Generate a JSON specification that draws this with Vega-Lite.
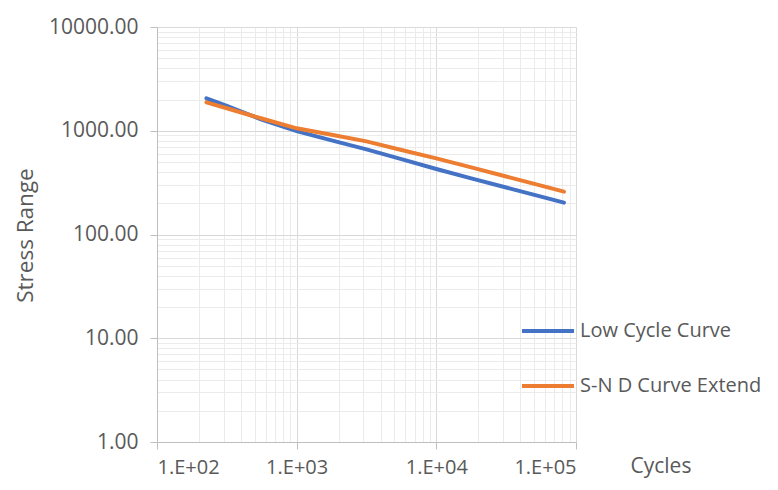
{
  "$schema": "https://vega.github.io/schema/vega-lite/v6.json",
  "autosize": {"type": "none"},
  "width": 419,
  "height": 415,
  "padding": {"left": 157, "top": 27, "right": 202, "bottom": 48},
  "background": "white",
  "config": {
    "view": {"stroke": null},
    "font": "Open Sans",
    "axis": {"labelFont": "Open Sans", "titleFont": "Open Sans", "labelColor": "#595959", "titleColor": "#595959", "titleFontWeight": "normal"},
    "legend": {"labelFont": "Open Sans", "labelColor": "#595959"}
  },
  "data": {
    "values": [
      {"cycles": 226, "stress": 2055, "series": "Low Cycle Curve"},
      {"cycles": 316, "stress": 1734, "series": "Low Cycle Curve"},
      {"cycles": 562, "stress": 1280, "series": "Low Cycle Curve"},
      {"cycles": 1000, "stress": 990, "series": "Low Cycle Curve"},
      {"cycles": 1778, "stress": 808, "series": "Low Cycle Curve"},
      {"cycles": 3162, "stress": 661, "series": "Low Cycle Curve"},
      {"cycles": 5623, "stress": 532, "series": "Low Cycle Curve"},
      {"cycles": 10000, "stress": 428, "series": "Low Cycle Curve"},
      {"cycles": 17783, "stress": 348, "series": "Low Cycle Curve"},
      {"cycles": 31623, "stress": 284, "series": "Low Cycle Curve"},
      {"cycles": 56234, "stress": 232, "series": "Low Cycle Curve"},
      {"cycles": 82000, "stress": 203, "series": "Low Cycle Curve"},
      {"cycles": 226, "stress": 1880, "series": "S-N D Curve Extend"},
      {"cycles": 316, "stress": 1648, "series": "S-N D Curve Extend"},
      {"cycles": 562, "stress": 1312, "series": "S-N D Curve Extend"},
      {"cycles": 1000, "stress": 1055, "series": "S-N D Curve Extend"},
      {"cycles": 1778, "stress": 915, "series": "S-N D Curve Extend"},
      {"cycles": 3162, "stress": 790, "series": "S-N D Curve Extend"},
      {"cycles": 5623, "stress": 653, "series": "S-N D Curve Extend"},
      {"cycles": 10000, "stress": 541, "series": "S-N D Curve Extend"},
      {"cycles": 17783, "stress": 444, "series": "S-N D Curve Extend"},
      {"cycles": 31623, "stress": 362, "series": "S-N D Curve Extend"},
      {"cycles": 56234, "stress": 296, "series": "S-N D Curve Extend"},
      {"cycles": 82000, "stress": 259, "series": "S-N D Curve Extend"}
    ]
  },
  "layer": [
    {
      "mark": {"type": "line", "opacity": 0},
      "encoding": {
        "x": {"field": "cycles", "type": "quantitative", "scale": {"type": "log", "domain": [100, 100000], "nice": false},
          "axis": {"orient": "bottom", "values": [200,300,400,500,600,700,800,900,2000,3000,4000,5000,6000,7000,8000,9000,20000,30000,40000,50000,60000,70000,80000,90000], "labels": false, "ticks": false, "domain": false, "grid": true, "gridColor": "#ebebeb", "gridWidth": 1, "title": null}},
        "y": {"field": "stress", "type": "quantitative", "scale": {"type": "log", "domain": [1, 10000], "nice": false},
          "axis": {"orient": "left", "values": [2,3,4,5,6,7,8,9,20,30,40,50,60,70,80,90,200,300,400,500,600,700,800,900,2000,3000,4000,5000,6000,7000,8000,9000], "labels": false, "ticks": false, "domain": false, "grid": true, "gridColor": "#ebebeb", "gridWidth": 1, "title": null}},
        "detail": {"field": "series"}
      }
    },
    {
      "mark": {"type": "line", "strokeWidth": 4, "strokeCap": "round"},
      "encoding": {
        "x": {"field": "cycles", "type": "quantitative",
          "axis": {"orient": "bottom", "values": [100, 1000, 10000, 100000], "labelExpr": "'1.E+0' + round(log(datum.value)/LN10)", "labelFontSize": 20, "labelPadding": 8, "tickSize": 7, "tickColor": "#bfbfbf", "domainColor": "#bfbfbf", "grid": true, "gridColor": "#d9d9d9", "title": "Cycles", "titleFontSize": 21, "titleX": 473, "titleY": 24, "titleAlign": "left", "titleBaseline": "middle", "titleAnchor": null}},
        "y": {"field": "stress", "type": "quantitative",
          "axis": {"orient": "left", "values": [1, 10, 100, 1000, 10000], "format": ".2f", "labelFontSize": 21, "labelPadding": 12, "tickSize": 7, "tickColor": "#bfbfbf", "domainColor": "#bfbfbf", "grid": true, "gridColor": "#d9d9d9", "title": "Stress Range", "titleFontSize": 22.5, "titleX": -132, "titleY": 208, "titleAngle": -90, "titleAlign": "center", "titleBaseline": "middle", "titleAnchor": null}},
        "color": {"field": "series", "type": "nominal", "scale": {"domain": ["Low Cycle Curve", "S-N D Curve Extend"], "range": ["#4472C4", "#ED7D31"]},
          "legend": {"title": null, "orient": "none", "legendX": 363, "legendY": 276, "symbolType": "stroke", "symbolSize": 2704, "symbolStrokeWidth": 4, "labelFontSize": 20, "labelOffset": 4, "rowPadding": 17, "padding": 0, "labelLimit": 400}}
      }
    }
  ],
  "resolve": {"axis": {"x": "independent", "y": "independent"}}
}
